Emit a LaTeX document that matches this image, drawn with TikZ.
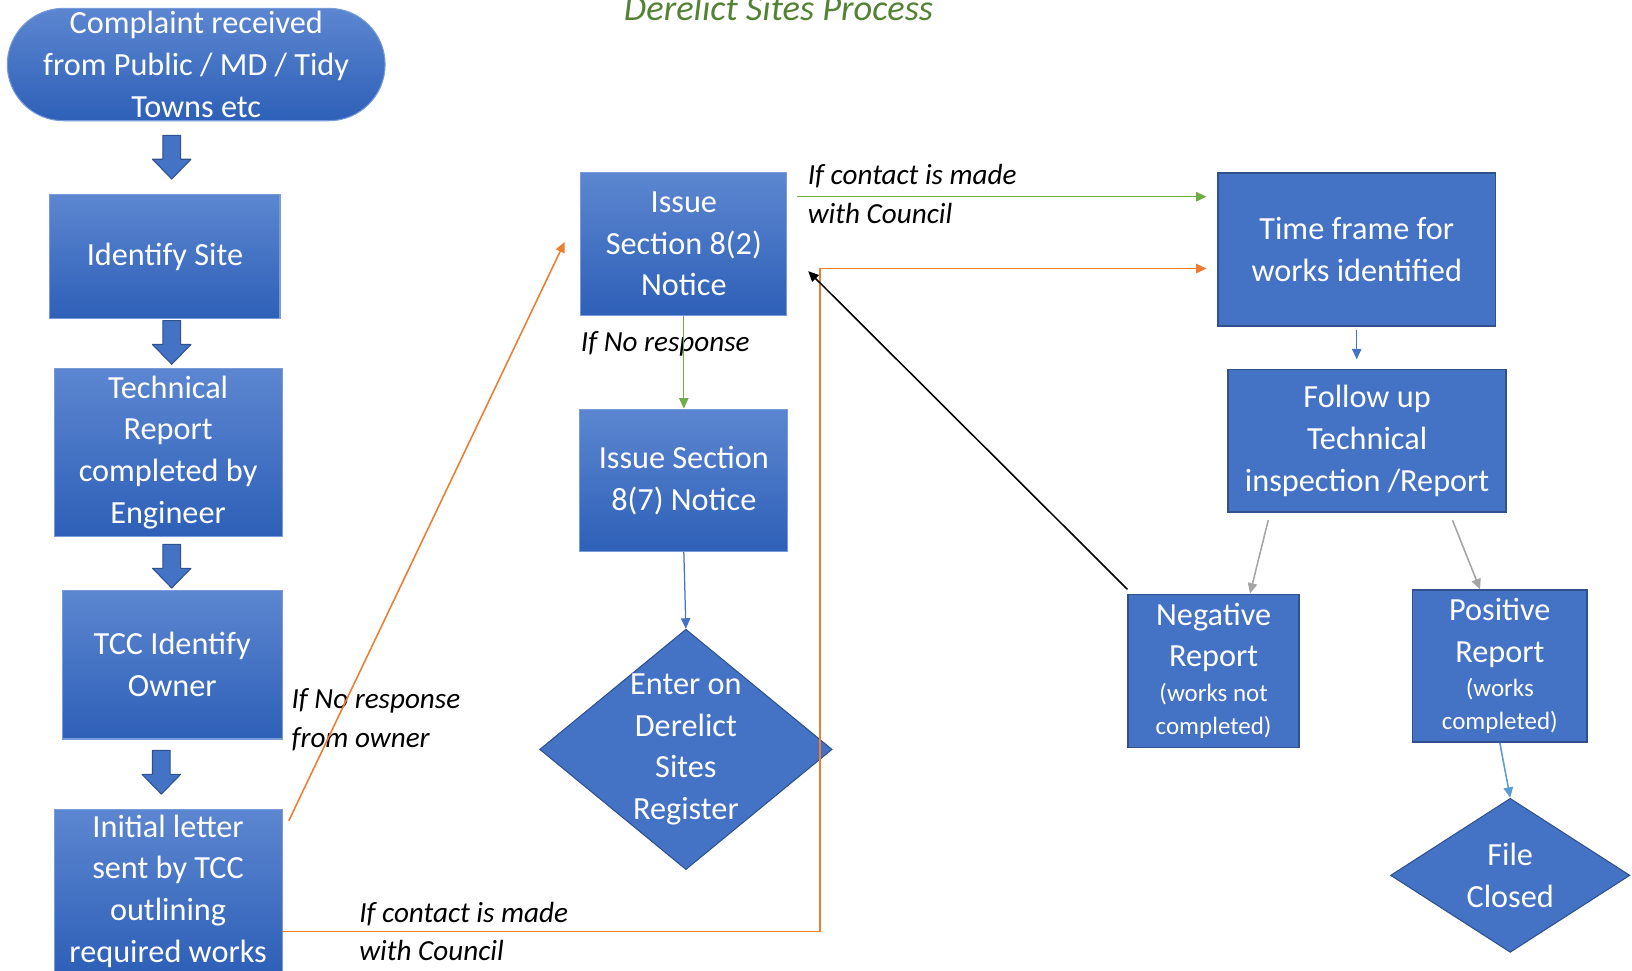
\documentclass[tikz,border=0pt]{standalone}
\usepackage{fontspec}
\setmainfont{Carlito}
\usetikzlibrary{shapes.geometric,arrows.meta,calc}

\definecolor{boxblue}{RGB}{68,114,196}
\definecolor{boxline}{RGB}{47,82,143}
\definecolor{gtop}{RGB}{92,134,208}
\definecolor{gbot}{RGB}{46,96,184}
\definecolor{gline}{RGB}{120,155,218}
\definecolor{okgreen}{RGB}{112,173,71}
\definecolor{titlegreen}{RGB}{84,130,53}
\definecolor{linkorange}{RGB}{237,125,49}
\definecolor{linkgray}{RGB}{165,165,165}
\definecolor{linkblue}{RGB}{91,155,213}

\newcommand{\boxfont}{\fontsize{31}{40}\selectfont}
\newcommand{\smallfont}{\fontsize{24}{32}\selectfont}
\newcommand{\notefont}{\fontsize{28}{37}\selectfont}

\begin{document}
\begin{tikzpicture}[x=1pt,y=-1pt,
    >={Triangle[length=10pt,width=9pt]},
    gradbox/.style={rectangle,top color=gtop,bottom color=gbot,draw=gline,line width=1pt,
        text=white,align=center,font=\boxfont,inner sep=0pt},
    flatbox/.style={rectangle,fill=boxblue,draw=boxline,line width=1.5pt,
        text=white,align=center,font=\boxfont,inner sep=0pt},
    decision/.style={diamond,fill=boxblue,draw=boxline,line width=1pt,inner sep=0pt},
    note/.style={font=\notefont\itshape,align=left,anchor=west,inner sep=0pt},
    blockarrow/.style={fill=boxblue,draw=boxline,line width=1pt,line join=round}]
    \clip (0,0) rectangle (1568,932);

    % title
    \node [font=\fontsize{35}{40}\selectfont\itshape,text=titlegreen,anchor=base] (title) at (748,20) {Derelict Sites Process};

    % left column
    \node [gradbox,rounded corners=54pt,minimum width=363pt,minimum height=108pt] (complaint) at (188.5,62)
        {Complaint received\\from Public / MD / Tidy\\Towns etc};
    \node [gradbox,minimum width=221pt,minimum height=119pt] (identify) at (158.5,246.5) {Identify Site};
    \node [gradbox,minimum width=219pt,minimum height=161pt] (techrep) at (161.5,434.5)
        {Technical\\Report\\completed by\\Engineer};
    \node [gradbox,minimum width=211pt,minimum height=143pt] (owner) at (165.5,638.5) {TCC Identify\\Owner};
    \node [gradbox,minimum width=219pt,minimum height=156pt] (letter) at (161.5,856)
        {Initial letter\\sent by TCC\\outlining\\required works};
    \foreach \x/\y in {165/130, 165/308, 165/523, 155/721}
        \draw [blockarrow] (\x-8.5,\y) -- (\x+8.5,\y) -- (\x+8.5,\y+23) -- (\x+18.5,\y+23)
            -- (\x,\y+42) -- (\x-18.5,\y+23) -- (\x-8.5,\y+23) -- cycle;

    % middle column
    \node [gradbox,minimum width=198pt,minimum height=137pt] (s82) at (657,234.5) {Issue\\Section 8(2)\\Notice};
    \node [gradbox,minimum width=200pt,minimum height=137pt] (s87) at (657,461.5) {Issue Section\\8(7) Notice};
    \node [decision,minimum width=281pt,minimum height=231pt] (register) at (659,720) {};
    \node [text=white,align=center,font=\boxfont] at (register) {Enter on\\Derelict\\Sites\\Register};

    % right column
    \node [flatbox,minimum width=267pt,minimum height=147pt] (timeframe) at (1303.5,239.5)
        {Time frame for\\works identified};
    \node [flatbox,minimum width=267pt,minimum height=137pt] (followup) at (1313.5,423.5)
        {Follow up\\Technical\\inspection /Report};
    \node [flatbox,minimum width=164pt,minimum height=147pt] (negative) at (1166,644.5)
        {Negative\\Report\\[-7pt]\smallfont (works not\\[-8pt]\smallfont completed)};
    \node [flatbox,minimum width=168pt,minimum height=146pt] (positive) at (1441,640)
        {Positive\\Report\\[-7pt]\smallfont (works\\[-8pt]\smallfont completed)};
    \node [decision,minimum width=230pt,minimum height=148pt] (closed) at (1451,841) {};
    \node [text=white,align=center,font=\boxfont] at (closed) {File\\Closed};

    % labels
    \node [note] (contacttop) at (776,186.5) {If contact is made\\with Council};
    \node [note] (noresp) at (558,330) {If No response};
    \node [note] (noowner) at (280,691.5) {If No response\\from owner};
    \node [note] (contactbot) at (345,895) {If contact is made\\with Council};

    % connectors
    \coordinate (g1) at (0,189);
    \coordinate (o1) at (788,895);
    \coordinate (o2) at (788,258);
    \draw [->,linkorange,line width=1.5pt] ($(letter.north east)+(6,11)$) -- ($(s82.west)+(-15,-2)$);
    \draw [->,linkorange,line width=1.5pt,shorten >=10pt] (letter.east |- o1) -- (o1) -- (o2) -- (o2 -| timeframe.west);
    \draw [->,okgreen,line width=1.5pt,shorten <=9pt,shorten >=10pt] (s82.east |- g1) -- (timeframe.west |- g1);
    \draw [->,okgreen,line width=1.2pt] (s82.south) -- (s87.north);
    \draw [->,boxblue,line width=1.2pt] (s87.south) -- (register.north);
    \draw [->,black,line width=1.5pt] ($(negative.north west)+(0,-4)$) -- ($(s82.east)+(20,26)$);
    \draw [->,boxblue,line width=1.2pt,shorten <=3pt,shorten >=9pt] (timeframe.south) -- (timeframe.south |- followup.north);
    \draw [->,linkgray,line width=1.5pt] ($(followup.south)+(-95,7)$) -- ($(negative.north)+(35,0)$);
    \draw [->,linkgray,line width=1.5pt] ($(followup.south)+(82,7)$) -- ($(positive.north)+(-19,0)$);
    \draw [->,linkblue,line width=1.5pt] (positive.south) -- (closed.north);
\end{tikzpicture}
\end{document}
